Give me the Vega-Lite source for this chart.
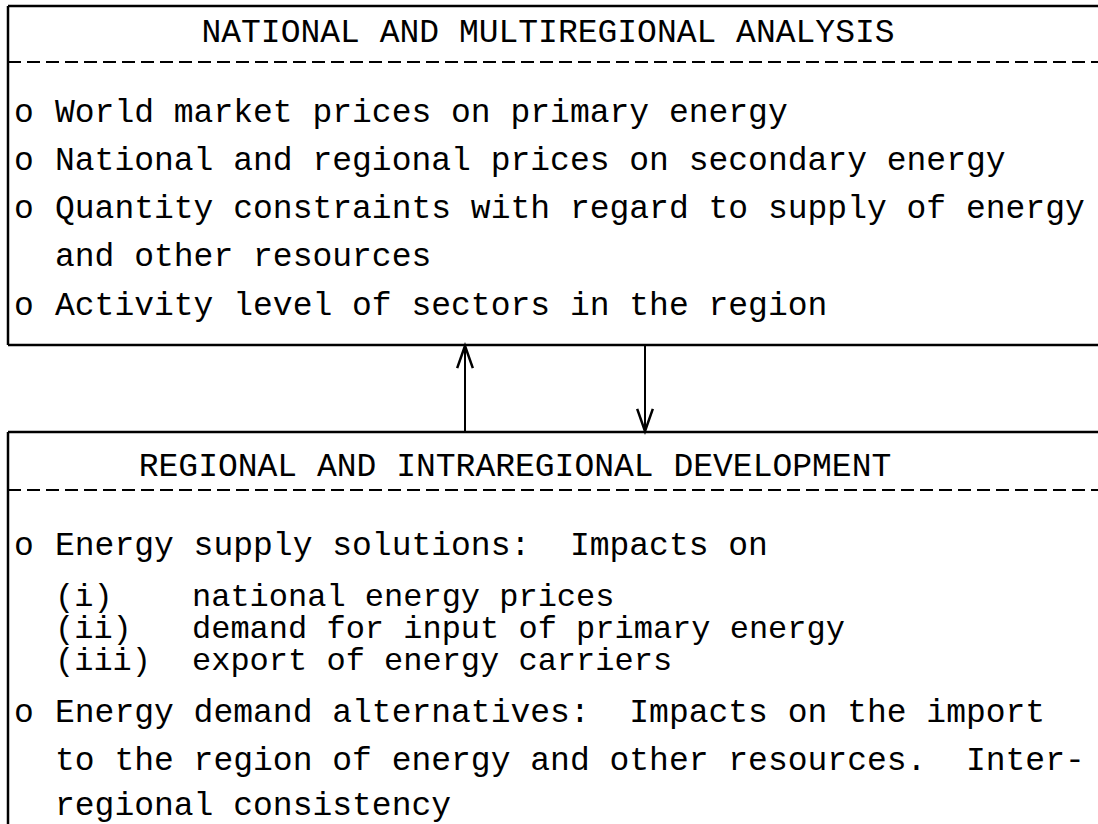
{
  "$schema": "https://vega.github.io/schema/vega-lite/v6.json",
  "width": 1098,
  "height": 824,
  "padding": 0,
  "autosize": {"type": "none"},
  "background": "white",
  "config": {"view": {"stroke": null}},
  "datasets": {
    "solid": [
      {"x": 8, "x2": 1098, "y": 6, "y2": 6},
      {"x": 8, "x2": 1098, "y": 345, "y2": 345},
      {"x": 8, "x2": 8, "y": 6, "y2": 345},
      {"x": 8, "x2": 1098, "y": 432, "y2": 432},
      {"x": 8, "x2": 8, "y": 432, "y2": 824}
    ],
    "arrows": [
      {"x": 465, "x2": 465, "y": 345, "y2": 432},
      {"x": 645, "x2": 645, "y": 345, "y2": 432}
    ],
    "dashed": [
      {"x": 8, "x2": 1098, "y": 62, "y2": 62},
      {"x": 8, "x2": 1098, "y": 490, "y2": 490}
    ],
    "headsUp": [{"x": 465, "y": 357}],
    "headsDown": [{"x": 645, "y": 420}],
    "titles": [
      {"x": 548, "y": 32, "t": "NATIONAL AND MULTIREGIONAL ANALYSIS"},
      {"x": 515, "y": 466, "t": "REGIONAL AND INTRAREGIONAL DEVELOPMENT"}
    ],
    "lines": [
      {"x": 14, "y": 112, "t": "o"},
      {"x": 55, "y": 112, "t": "World market prices on primary energy"},
      {"x": 14, "y": 160, "t": "o"},
      {"x": 55, "y": 160, "t": "National and regional prices on secondary energy"},
      {"x": 14, "y": 208, "t": "o"},
      {"x": 55, "y": 208, "t": "Quantity constraints with regard to supply of energy"},
      {"x": 55, "y": 256, "t": "and other resources"},
      {"x": 14, "y": 305, "t": "o"},
      {"x": 55, "y": 305, "t": "Activity level of sectors in the region"},
      {"x": 14, "y": 545, "t": "o"},
      {"x": 55, "y": 545, "t": "Energy supply solutions:\u00a0 Impacts on"},
      {"x": 14, "y": 712, "t": "o"},
      {"x": 55, "y": 712, "t": "Energy demand alternatives:\u00a0 Impacts on the import"},
      {"x": 55, "y": 760, "t": "to the region of energy and other resources.\u00a0 Inter-"},
      {"x": 55, "y": 805, "t": "regional consistency"}
    ],
    "sublines": [
      {"x": 55, "y": 596, "t": "(i)"},
      {"x": 192, "y": 596, "t": "national energy prices"},
      {"x": 55, "y": 628, "t": "(ii)"},
      {"x": 192, "y": 628, "t": "demand for input of primary energy"},
      {"x": 55, "y": 660, "t": "(iii)"},
      {"x": 192, "y": 660, "t": "export of energy carriers"}
    ]
  },
  "encoding": {
    "x": {"field": "x", "type": "quantitative", "scale": {"domain": [0, 1098], "nice": false, "zero": false}, "axis": null},
    "y": {"field": "y", "type": "quantitative", "scale": {"domain": [0, 824], "nice": false, "zero": false, "reverse": true}, "axis": null}
  },
  "layer": [
    {
      "data": {"name": "solid"},
      "mark": {"type": "rule", "stroke": "black", "strokeWidth": 2.5},
      "encoding": {"x2": {"field": "x2"}, "y2": {"field": "y2"}}
    },
    {
      "data": {"name": "arrows"},
      "mark": {"type": "rule", "stroke": "black", "strokeWidth": 2},
      "encoding": {"x2": {"field": "x2"}, "y2": {"field": "y2"}}
    },
    {
      "data": {"name": "dashed"},
      "mark": {"type": "rule", "stroke": "black", "strokeWidth": 2, "strokeDash": [13, 6]},
      "encoding": {"x2": {"field": "x2"}, "y2": {"field": "y2"}}
    },
    {
      "data": {"name": "headsUp"},
      "mark": {"type": "point", "shape": "M-0.7,1L0,-1L0.7,1", "filled": false, "stroke": "black", "strokeWidth": 2.5, "size": 500, "opacity": 1}
    },
    {
      "data": {"name": "headsDown"},
      "mark": {"type": "point", "shape": "M-0.7,-1L0,1L0.7,-1", "filled": false, "stroke": "black", "strokeWidth": 2.5, "size": 500, "opacity": 1}
    },
    {
      "data": {"name": "titles"},
      "mark": {"type": "text", "align": "center", "baseline": "middle", "font": "Courier New, Liberation Mono, monospace", "fontSize": 33, "color": "black"},
      "encoding": {"text": {"field": "t"}}
    },
    {
      "data": {"name": "lines"},
      "mark": {"type": "text", "align": "left", "baseline": "middle", "font": "Courier New, Liberation Mono, monospace", "fontSize": 33, "color": "black"},
      "encoding": {"text": {"field": "t"}}
    },
    {
      "data": {"name": "sublines"},
      "mark": {"type": "text", "align": "left", "baseline": "middle", "font": "Courier New, Liberation Mono, monospace", "fontSize": 32, "color": "black"},
      "encoding": {"text": {"field": "t"}}
    }
  ]
}
